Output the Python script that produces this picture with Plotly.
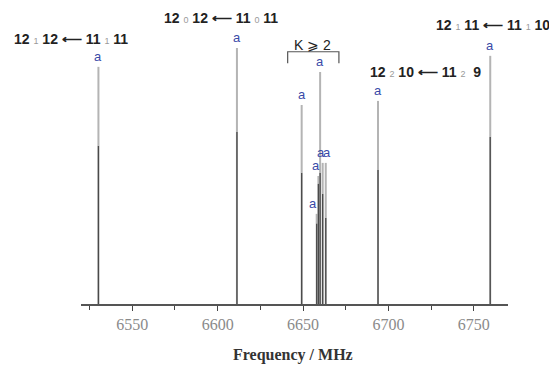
import plotly.graph_objects as go

# line frequencies (MHz)
freq = [6530.2, 6611.3, 6649.2, 6658.0, 6659.0, 6660.0, 6661.5, 6663.3, 6693.9, 6759.6]
# predicted (light) intensities
pred = [92.6, 100.0, 77.7, 35.2, 50.0, 90.6, 55.1, 55.1, 79.3, 96.9]
# observed (dark) intensities
obs = [61.7, 67.2, 51.2, 31.3, 46.9, 51.2, 43.0, 33.6, 52.3, 65.2]
# label x-shifts for the 'a' markers (cluster crowding)
a_shift = [0, 0, 0, -4, -2, 0, -2, 1, 0, 0]

tick_vals = [6550, 6600, 6650, 6700, 6750]

def sticks(xs, hs):
    X, Y = [], []
    for x, h in zip(xs, hs):
        X += [x, x, None]
        Y += [0, h, None]
    return X, Y

fig = go.Figure()
px_, py_ = sticks(freq, pred)
fig.add_trace(go.Scatter(x=px_, y=py_, mode="lines",
                         line=dict(color="#b4b4b4", width=2), hoverinfo="skip", showlegend=False))
ox, oy = sticks(freq, obs)
fig.add_trace(go.Scatter(x=ox, y=oy, mode="lines",
                         line=dict(color="#4a4a4a", width=1.3), hoverinfo="skip", showlegend=False))

annotations = []
for f, h, s in zip(freq, pred, a_shift):
    annotations.append(dict(x=f, y=h, xref="x", yref="y", text="a", showarrow=False,
                            yanchor="bottom", yshift=1, xshift=s,
                            font=dict(family="Liberation Sans, Arial", size=13, color="#3a4aa8")))

def small(t):
    return "<span style='font-size:9px;color:#9a9a9a;font-weight:normal'>%s</span>" % t

def trans(a, ka, b, c, kc, d):
    return "<b>%s </b>%s<b> %s ⟵ %s </b>%s<b> %s</b>" % (a, small(ka), b, c, small(kc), d)

labels = [
    (trans("12", "1", "12", "11", "1", "11"), -0.0234, 0.901),
    (trans("12", "0", "12", "11", "0", "11"), 0.328, 0.973),
    (trans("12", "1", "11", "11", "1", "10"), 0.965, 0.949),
    (trans("12", "2", "10", "11", "2", "&nbsp;9"), 0.806, 0.789),
    ("K ⩾ 2", 0.543, 0.881),
]
for t, x, y in labels:
    annotations.append(dict(x=x, y=y, xref="paper", yref="paper", text=t, showarrow=False,
                            xanchor="center", yanchor="middle",
                            font=dict(family="Liberation Sans, Arial", size=14, color="#222222")))

annotations.append(dict(x=0.497, y=-0.173, xref="paper", yref="paper",
                        text="<b>Frequency / MHz</b>", showarrow=False,
                        xanchor="center", yanchor="middle",
                        font=dict(family="Liberation Serif", size=16, color="#333333")))

# page body has an 8px margin, so the figure is 8px smaller and margins compensate
fig.update_layout(
    width=549, height=357,
    margin=dict(l=73, r=49, t=2, b=61),
    paper_bgcolor="white", plot_bgcolor="white",
    annotations=annotations,
    shapes=[dict(type="path", xref="paper", yref="paper",
                 path="M 0.484 0.819 L 0.484 0.858 L 0.604 0.858 L 0.604 0.819",
                 line=dict(color="#555555", width=1.2))],
    xaxis=dict(range=[6520, 6770], tickvals=tick_vals, ticks="outside", ticklen=5,
               tickcolor="#444", tickwidth=1.2, showline=True, linecolor="#555",
               linewidth=1.5, showgrid=False, zeroline=False,
               minor=dict(dtick=25, tick0=6525, ticks="outside", ticklen=4, tickcolor="#444", showgrid=False),
               tickfont=dict(family="Liberation Serif", size=16, color="#8a8a8a")),
    yaxis=dict(range=[0, 114.8], visible=False, showgrid=False, zeroline=False),
)

fig.write_html("out.html")
